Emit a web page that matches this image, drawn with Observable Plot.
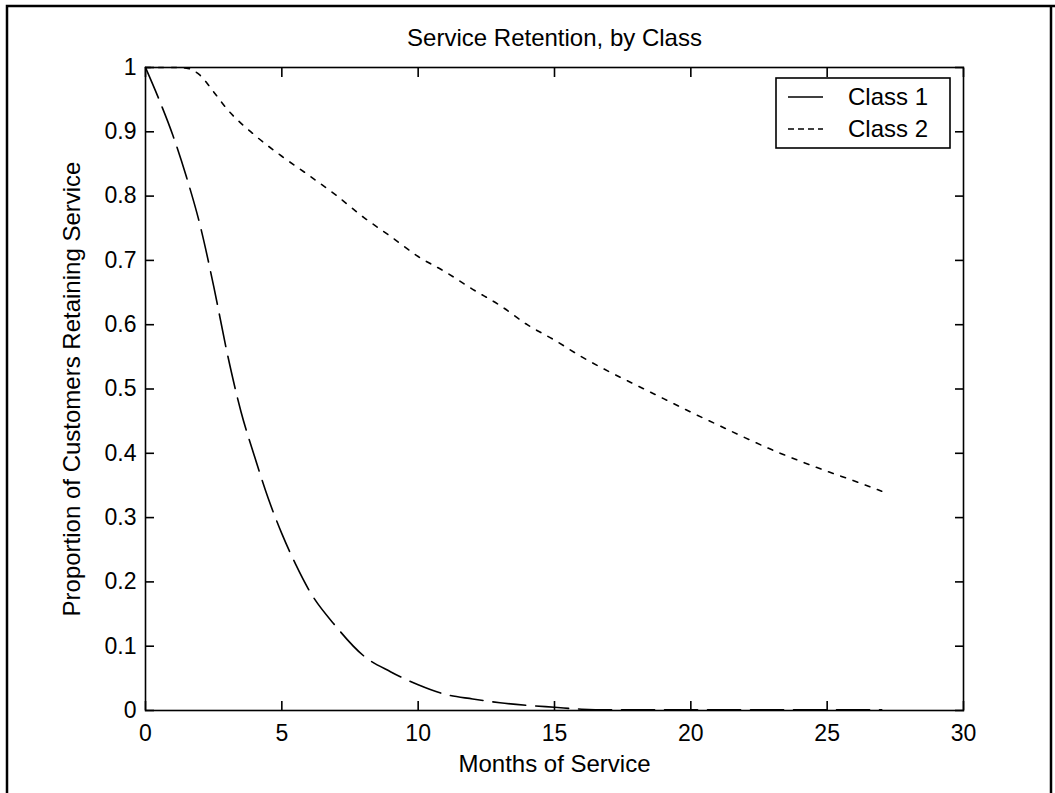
<!DOCTYPE html>
<html>
<head>
<meta charset="utf-8">
<script src="https://cdn.jsdelivr.net/npm/d3@7"></script>
<script src="https://cdn.jsdelivr.net/npm/@observablehq/plot@0.6"></script>
<style>
html, body { margin: 0; padding: 0; background: #ffffff; }
#chart { position: relative; width: 1055px; height: 793px; overflow: hidden; }
</style>
</head>
<body>
<div id="chart"></div>
<script>
// ---- data ----
const titleText = "Service Retention, by Class";
const xLabel = "Months of Service";
const yLabel = "Proportion of Customers Retaining Service";
const seriesNames = ["Class 1", "Class 2"];

const months1 = [0, 0.5, 1, 1.5, 2, 2.5, 3, 3.5, 4, 4.5, 5, 5.5, 6, 7, 8, 9, 10, 11, 12, 13, 14, 15, 16, 17, 18, 19, 20, 21, 22, 23, 24, 25, 26, 27];
const class1 = [1.0, 0.95, 0.895, 0.83, 0.755, 0.66, 0.555, 0.465, 0.395, 0.33, 0.275, 0.228, 0.187, 0.13, 0.085, 0.06, 0.04, 0.025, 0.018, 0.012, 0.008, 0.005, 0.002, 0.001, 0.001, 0.001, 0.001, 0.001, 0.001, 0.001, 0.001, 0.001, 0.001, 0.001];

const months2 = [0, 1, 1.5, 2, 2.5, 3, 4, 5, 6, 7, 8, 9, 10, 11, 12, 13, 14, 15, 16, 17, 18, 19, 20, 21, 22, 23, 24, 25, 26, 27];
const class2 = [1.0, 1.0, 0.999, 0.988, 0.962, 0.935, 0.895, 0.862, 0.832, 0.801, 0.767, 0.737, 0.706, 0.682, 0.655, 0.63, 0.6, 0.576, 0.55, 0.527, 0.506, 0.485, 0.464, 0.444, 0.424, 0.405, 0.388, 0.372, 0.357, 0.341];

const xTicks = [0, 5, 10, 15, 20, 25, 30];
const yTicks = [0, 0.1, 0.2, 0.3, 0.4, 0.5, 0.6, 0.7, 0.8, 0.9, 1];
const yTickLabels = ["0", "0.1", "0.2", "0.3", "0.4", "0.5", "0.6", "0.7", "0.8", "0.9", "1"];

// ---- build tables ----
const data1 = months1.map((m, i) => ({month: m, value: class1[i]}));
const data2 = months2.map((m, i) => ({month: m, value: class2[i]}));

const W = 1055, H = 793;
const font = "'Liberation Sans', Arial, Helvetica, sans-serif";

const plot = Plot.plot({
  width: W,
  height: H,
  marginLeft: 145,
  marginRight: 92,
  marginTop: 67,
  marginBottom: 83,
  style: {fontFamily: font, fontSize: "23px", background: "white", color: "black", overflow: "visible"},
  x: {domain: [0, 30]},
  y: {domain: [0, 1]},
  marks: [
    Plot.line(data1, {x: "month", y: "value", stroke: "black", strokeWidth: 1.6, strokeDasharray: "33,10", curve: "monotone-x"}),
    Plot.line(data2, {x: "month", y: "value", stroke: "black", strokeWidth: 1.6, strokeDasharray: "5,8", curve: "monotone-x"}),
    Plot.frame({stroke: "black", strokeWidth: 1.6}),
    Plot.axisX({anchor: "bottom", ticks: xTicks, tickSize: 0, tickPadding: 14, fontSize: 23, label: null, tickFormat: d => String(d)}),
    Plot.axisX({anchor: "bottom", ticks: xTicks, tickSize: -9, text: null, strokeWidth: 1.6, label: null}),
    Plot.axisX({anchor: "top", ticks: xTicks, tickSize: -9, text: null, strokeWidth: 1.6, label: null}),
    Plot.axisY({anchor: "left", ticks: yTicks, tickSize: 0, tickPadding: 9, fontSize: 23, label: null, tickFormat: (d, i) => yTickLabels[i]}),
    Plot.axisY({anchor: "left", ticks: yTicks, tickSize: -9, text: null, strokeWidth: 1.6, label: null}),
    Plot.axisY({anchor: "right", ticks: yTicks, tickSize: -9, text: null, strokeWidth: 1.6, label: null}),
    Plot.text([titleText], {frameAnchor: "top", dy: -29.5, fontSize: 24, lineAnchor: "middle", textAnchor: "middle"}),
    Plot.text([xLabel], {frameAnchor: "bottom", dy: 53.5, fontSize: 24, lineAnchor: "middle", textAnchor: "middle"}),
    Plot.text([yLabel], {frameAnchor: "left", rotate: -90, dx: -73, fontSize: 24, lineAnchor: "middle", textAnchor: "middle"})
  ]
});

document.getElementById("chart").appendChild(plot);

// ---- outer figure border and legend box ----
const svg = d3.select(plot);
const border = svg.append("g").attr("fill", "none").attr("stroke", "black").attr("stroke-width", 2.5);
border.append("path").attr("d", `M7,${H + 5}V6H${W + 5}`);
border.append("path").attr("d", `M1051,6V${H + 5}`);

const legend = svg.append("g").attr("font-family", font).attr("font-size", 24).attr("text-anchor", "start");
legend.append("rect")
  .attr("x", 776).attr("y", 78).attr("width", 174).attr("height", 70)
  .attr("fill", "white").attr("stroke", "black").attr("stroke-width", 1.6);
const dashes = [null, "6,4"];
seriesNames.forEach((name, i) => {
  const yy = 97 + i * 32;
  legend.append("line")
    .attr("x1", 788).attr("x2", 823).attr("y1", yy).attr("y2", yy)
    .attr("stroke", "black").attr("stroke-width", 1.6)
    .attr("stroke-dasharray", dashes[i]);
  legend.append("text")
    .attr("x", 848).attr("y", yy).attr("dy", "0.35em")
    .attr("text-anchor", "start")
    .attr("fill", "black").text(name);
});
</script>
</body>
</html>
